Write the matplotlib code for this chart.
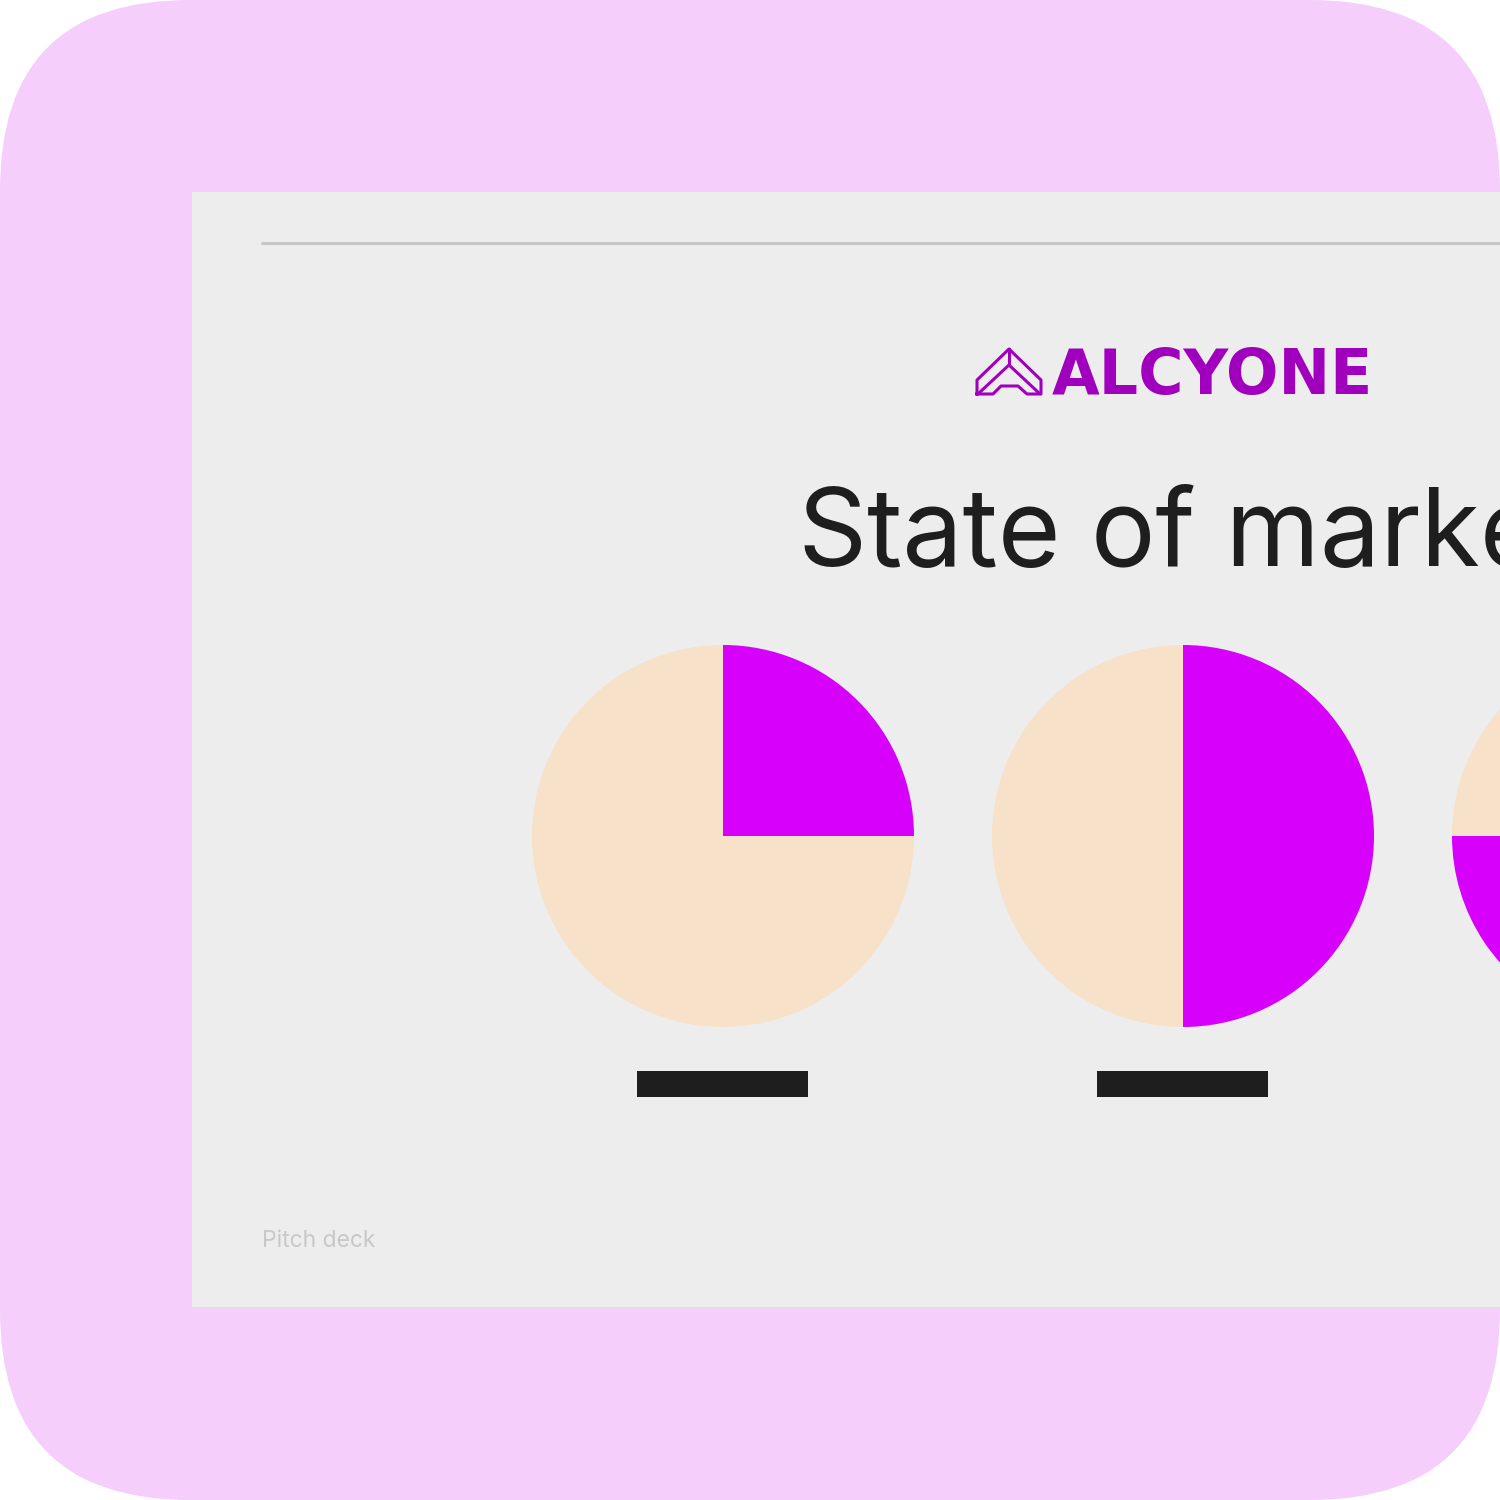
import matplotlib
matplotlib.use("Agg")
import matplotlib.pyplot as plt
from matplotlib.patches import FancyBboxPatch, Rectangle

# ---- data ----
categories = ["A", "B", "C"]          # labels are redacted (black bars) in the reference
share_values = [25, 50, 75]           # magenta share in %
rest_values = [100 - v for v in share_values]
title_text = "State of market"
brand_text = "ALCYONE"
footer_text = "Pitch deck"

# ---- styles ----
PINK = "#f5cefc"
SLIDE = "#ededed"
MAGENTA = "#d600fb"
BEIGE = "#f8e1c9"
BRAND = "#a000bd"
DARK = "#1e1e1e"

W = H = 1500
fig = plt.figure(figsize=(15, 15), dpi=100)
fig.patch.set_facecolor("white")
ax = fig.add_axes([0, 0, 1, 1])
ax.set_xlim(0, W)
ax.set_ylim(0, H)
ax.set_aspect("equal")
ax.axis("off")

def Y(py):
    return H - py

# pink rounded background
ax.add_patch(FancyBboxPatch((0, 0), W, H, boxstyle="round,pad=0,rounding_size=190",
                            facecolor=PINK, edgecolor="none", zorder=0))
# slide
ax.add_patch(Rectangle((192, Y(1307)), W, 1307 - 192, facecolor=SLIDE,
                       edgecolor="none", zorder=1))
# top rule
ax.plot([261, W + 10], [Y(243), Y(243)], color="#c6c6c6", lw=2.2, zorder=2,
        solid_capstyle="butt")

# logo icon
icon_outer = [(977, 394), (977, 380), (1009, 349), (1041, 380), (1041, 394),
              (1027, 394), (1018, 386), (1001, 386), (993, 394), (977, 394)]
ax.plot([p[0] for p in icon_outer], [Y(p[1]) for p in icon_outer], color=BRAND,
        lw=2.2, zorder=3, solid_joinstyle="round")
icon_inner = [(979, 393), (1009, 365), (1039, 393)]
ax.plot([p[0] for p in icon_inner], [Y(p[1]) for p in icon_inner], color=BRAND,
        lw=2.2, zorder=3)
ax.plot([1009, 1009], [Y(349), Y(365)], color=BRAND, lw=2.2, zorder=3)

# brand text
ax.text(1052, Y(394), brand_text, fontsize=44.5, fontweight="bold",
        family="DejaVu Sans", color=BRAND, ha="left", va="baseline", zorder=3)

# title
ax.text(798, Y(566), title_text, fontsize=77.5, family="Inter", color=DARK,
        ha="left", va="baseline", zorder=3)

# pies
cx0, dx, cy, R = 723, 460, 836, 191
for i, (v, r) in enumerate(zip(share_values, rest_values)):
    cx = cx0 + i * dx
    wedges, _ = ax.pie([v, r], colors=[MAGENTA, BEIGE], startangle=90,
                       counterclock=False, center=(cx, Y(cy)), radius=R,
                       wedgeprops=dict(linewidth=0), frame=True)
    for w in wedges:
        w.set_zorder(3)
    # redacted label bar
    ax.add_patch(Rectangle((cx - 86, Y(1097)), 171, 26, facecolor=DARK,
                           edgecolor="none", zorder=3))

# footer
ax.text(262, Y(1247), footer_text, fontsize=16.5, family="Inter", color="#c8c8c8",
        ha="left", va="baseline", zorder=3)

ax.set_xlim(0, W)
ax.set_ylim(0, H)
ax.axis("off")
fig.savefig("out.png", dpi=100, facecolor="white")
